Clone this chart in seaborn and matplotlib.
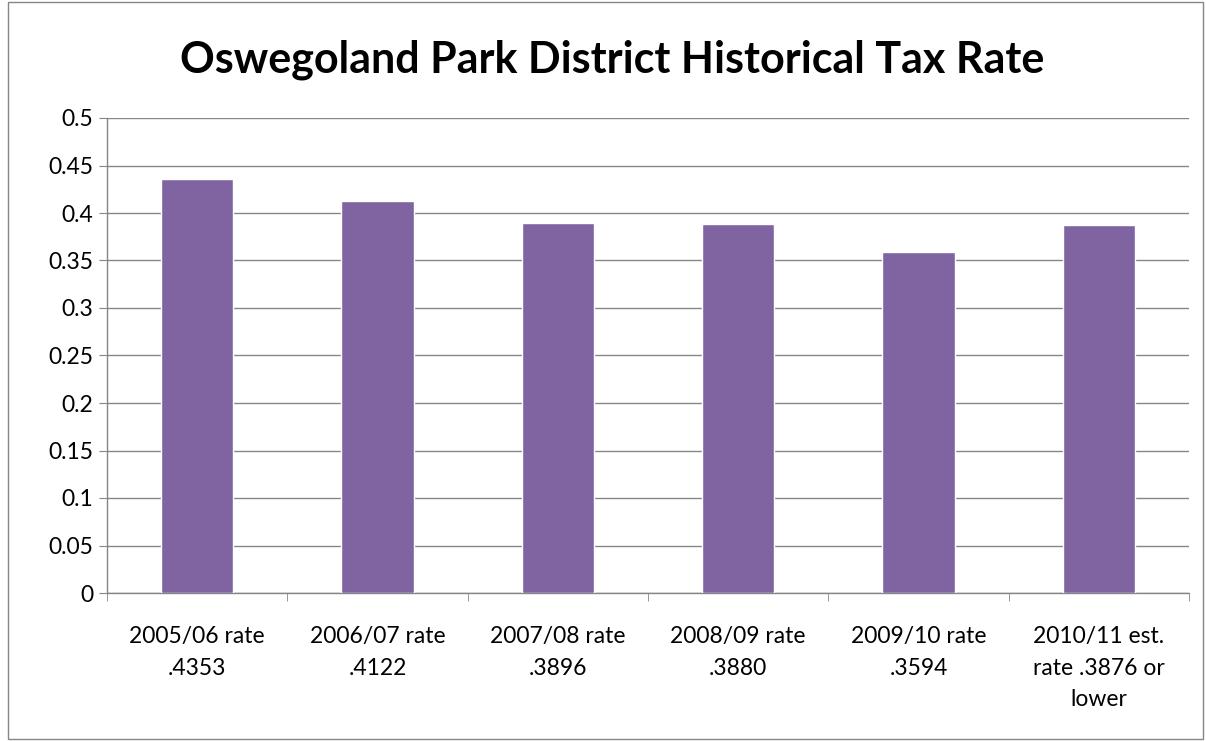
import matplotlib
matplotlib.use("Agg")
import matplotlib.pyplot as plt
import seaborn as sns
from matplotlib.patches import Rectangle
from matplotlib.ticker import FixedLocator, MultipleLocator, FuncFormatter

# data
categories = ["2005/06 rate\n.4353", "2006/07 rate\n.4122", "2007/08 rate\n.3896",
              "2008/09 rate\n.3880", "2009/10 rate\n.3594",
              "2010/11 est.\nrate .3876 or\nlower"]
rates = [0.4353, 0.4122, 0.3896, 0.3880, 0.3594, 0.3876]

sns.set_style("white")
plt.rcParams["font.family"] = ["Lato", "DejaVu Sans"]

fig = plt.figure(figsize=(12.06, 7.41), dpi=100)
ax = fig.add_axes([107 / 1206, 1 - 593 / 741, (1189 - 107) / 1206, (593 - 118) / 741])

sns.barplot(x=categories, y=rates, color="#8064A2", width=0.4, saturation=1, ax=ax, zorder=3)

ax.set_ylim(0, 0.5)
ax.set_xlim(-0.5, len(categories) - 0.5)
ax.yaxis.set_major_locator(MultipleLocator(0.05))
ax.yaxis.set_major_formatter(FuncFormatter(lambda v, p: "0" if abs(v) < 1e-9 else f"{round(v, 2):g}"))
ax.grid(axis="y", color="#868686", linewidth=1, zorder=0)

for s in ["top", "right"]:
    ax.spines[s].set_visible(False)
for s in ["left", "bottom"]:
    ax.spines[s].set_color("#868686")
    ax.spines[s].set_linewidth(1)

ax.tick_params(axis="y", which="major", length=6, color="#868686", labelsize=16.5, pad=4, left=True,
               labelcolor="black")
ax.tick_params(axis="x", which="major", length=0, labelsize=16.5, pad=24, labelcolor="black")
for t in ax.get_xticklabels():
    t.set_linespacing(1.62)
ax.xaxis.set_minor_locator(FixedLocator([i - 0.5 for i in range(len(categories) + 1)]))
ax.tick_params(axis="x", which="minor", length=6, color="#868686", bottom=True)
ax.set_xlabel("")
ax.set_ylabel("")

fig.text(612 / 1206, 1 - 60 / 741, "Oswegoland Park District Historical Tax Rate",
         ha="center", va="center", fontsize=31, fontweight="bold", color="black")

fig.add_artist(Rectangle((8 / 1206, 2 / 741), 1195 / 1206, 737 / 741, transform=fig.transFigure,
                         fill=False, edgecolor="#868686", linewidth=1))

fig.savefig("out.png", dpi=100)
